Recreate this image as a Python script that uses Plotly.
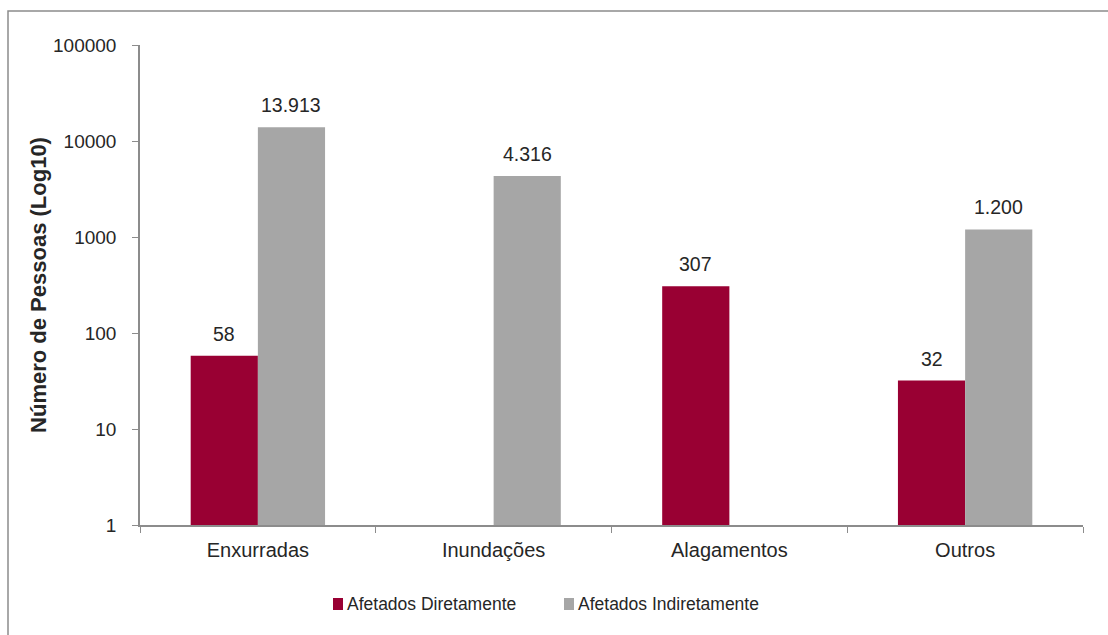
import math
import plotly.graph_objects as go

categories = ["Enxurradas", "Inundações", "Alagamentos", "Outros"]
afetados_diretamente = [58, None, 307, 32]
afetados_indiretamente = [13913, 4316, None, 1200]
y_ticks = [1, 10, 100, 1000, 10000, 100000]

RED = "#990033"
GRAY = "#A6A6A6"
AXIS = "#8C8C8C"
TEXT = "#262626"
FONT = "Liberation Sans, Arial, sans-serif"

W, H = 1108, 635
ML, MR, MT, MB = 140, 25, 45, 110
PW, PH = W - ML - MR, H - MT - MB
BARGAP = 0.43


def px_x(x):
    return (x - ML) / PW


def px_y(y):
    return (H - MB - y) / PH


def fmt(v):
    return f"{v:,}".replace(",", ".")


series = [
    ("Afetados Diretamente", afetados_diretamente, RED),
    ("Afetados Indiretamente", afetados_indiretamente, GRAY),
]

fig = go.Figure()
for name, values, color in series:
    fig.add_trace(go.Bar(
        name=name, x=categories, y=values,
        marker=dict(color=color, line=dict(width=0)),
        showlegend=False,
    ))

# value labels above each bar
bar_w = PW / len(categories) * (1 - BARGAP) / len(series)
for i, (name, values, color) in enumerate(series):
    shift = (i - (len(series) - 1) / 2) * bar_w
    for cat, v in zip(categories, values):
        if v is None:
            continue
        fig.add_annotation(
            x=cat, y=math.log10(v), xref="x", yref="y",
            text=fmt(v), showarrow=False, xshift=shift, yshift=9,
            yanchor="bottom", font=dict(size=19.5, color=TEXT, family=FONT),
        )

fig.update_layout(
    width=W, height=H,
    margin=dict(l=ML, r=MR, t=MT, b=MB),
    paper_bgcolor="white", plot_bgcolor="white",
    barmode="group", bargap=BARGAP, bargroupgap=0,
    font=dict(family=FONT, size=16, color=TEXT),
    showlegend=False,
)

fig.update_xaxes(
    showline=True, linecolor=AXIS, linewidth=1.5,
    ticks="outside", tickson="boundaries", ticklen=6, tickcolor=AXIS,
    tickfont=dict(size=20, color=TEXT), showgrid=False, ticklabelstandoff=6,
)
fig.update_yaxes(
    type="log", range=[0, 5], showline=True, linecolor=AXIS, linewidth=1.5,
    ticks="outside", ticklen=6, tickcolor=AXIS,
    tickvals=y_ticks, ticktext=[str(v) for v in y_ticks],
    tickfont=dict(size=19, color=TEXT), showgrid=False, zeroline=False,
    ticklabelstandoff=12,
    title=dict(text="<b>Número de Pessoas (Log10)</b>", font=dict(size=22, color=TEXT), standoff=0),
)

# legend: swatch + label per series
legend_x = [333, 564]
for (name, values, color), lx in zip(series, legend_x):
    fig.add_shape(
        type="rect", xref="paper", yref="paper",
        x0=px_x(lx), x1=px_x(lx + 10), y0=px_y(610), y1=px_y(598),
        fillcolor=color, line=dict(width=0),
    )
    fig.add_annotation(
        x=px_x(lx + 12), y=px_y(604), xref="paper", yref="paper",
        text=name, showarrow=False, xanchor="left", yanchor="middle",
        font=dict(size=17.5, color=TEXT, family=FONT),
    )

# outer chart frame
fig.add_shape(
    type="rect", xref="paper", yref="paper",
    x0=px_x(8), x1=px_x(W + 8), y0=px_y(H + 10), y1=px_y(11),
    line=dict(color=AXIS, width=1.5), layer="below",
)

fig.write_html("out.html")
